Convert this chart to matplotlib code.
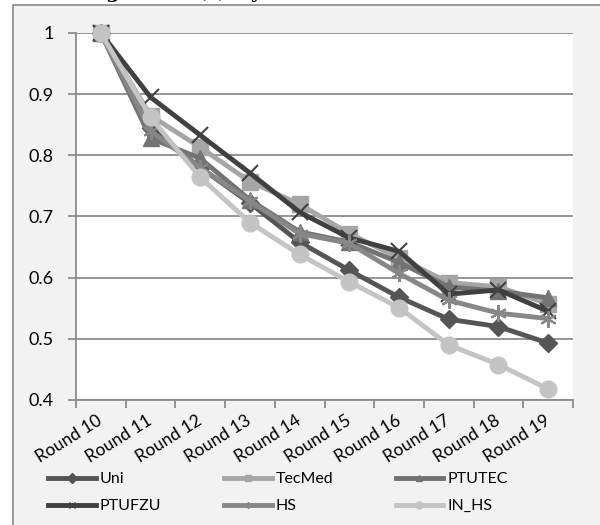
import matplotlib
matplotlib.use("Agg")
import matplotlib.pyplot as plt
from matplotlib.lines import Line2D
from matplotlib.patches import Rectangle
from matplotlib.ticker import FixedLocator, FuncFormatter

rounds = ["Round 10", "Round 11", "Round 12", "Round 13", "Round 14",
          "Round 15", "Round 16", "Round 17", "Round 18", "Round 19"]

uni = [1.0, 0.845, 0.78, 0.722, 0.658, 0.612, 0.568, 0.532, 0.52, 0.493]
tecmed = [1.0, 0.865, 0.813, 0.757, 0.72, 0.672, 0.632, 0.592, 0.585, 0.557]
ptutec = [1.0, 0.828, 0.795, 0.727, 0.675, 0.658, 0.625, 0.585, 0.578, 0.567]
ptufzu = [1.0, 0.895, 0.833, 0.771, 0.707, 0.665, 0.643, 0.573, 0.58, 0.545]
hs = [1.0, 0.84, 0.78, 0.725, 0.672, 0.656, 0.607, 0.563, 0.542, 0.533]
in_hs = [1.0, 0.862, 0.764, 0.69, 0.638, 0.593, 0.551, 0.49, 0.458, 0.418]

y_ticks = [0.4, 0.5, 0.6, 0.7, 0.8, 0.9, 1.0]

series = [
    ("Uni", uni, "#555555", "D", 9, 3.5),
    ("TecMed", tecmed, "#a6a6a6", "s", 12, 3.5),
    ("PTUTEC", ptutec, "#737373", "^", 12, 3.5),
    ("PTUFZU", ptufzu, "#404040", "x", 11, 3.5),
    ("HS", hs, "#878787", (6, 2, 0), 12, 3.5),
    ("IN_HS", in_hs, "#c4c4c4", "o", 12, 3.5),
]

plt.rcParams["font.family"] = ["Lato", "DejaVu Sans"]

fig = plt.figure(figsize=(6, 5.25), dpi=100)
fig.patch.set_facecolor("white")

# chart frame (light grey, clipped at right/bottom like the source crop)
frame = Rectangle((13 / 600, -0.05), 1.0, 1 - 5 / 525 + 0.05,
                  transform=fig.transFigure, facecolor="#f2f2f2",
                  edgecolor="#8a8a8a", linewidth=1.2, zorder=0)
fig.patches.append(frame)

# caption of the source figure, cropped so only descenders peek in
fig.text(85 / 600, 1 + 1.5 / 525, "Figure 12 (c) By Round",
         family="DejaVu Serif", fontweight="bold", fontsize=14,
         va="baseline", ha="left", color="black")

ax = fig.add_axes([76 / 600, 1 - 400 / 525, (573 - 76) / 600, (400 - 33) / 525])
ax.set_zorder(2)
ax.set_facecolor("white")

x = range(len(rounds))
for name, vals, color, marker, ms, lw in series:
    mew = 1.5 if marker in ("x", (6, 2, 0)) else 1
    ax.plot(x, vals, color=color, lw=lw, marker=marker, markersize=ms,
            markeredgecolor=color, markerfacecolor=color, markeredgewidth=mew,
            label=name, solid_joinstyle="round", clip_on=False)

ax.set_xlim(-0.5, len(rounds) - 0.5)
ax.set_ylim(0.4, 1.0)
ax.yaxis.set_major_locator(FixedLocator(y_ticks))
ax.yaxis.set_major_formatter(FuncFormatter(lambda v, p: "1" if abs(v - 1) < 1e-9 else f"{v:.1f}"))
ax.grid(axis="y", color="#8c8c8c", lw=1.3)
ax.set_axisbelow(True)

for s in ("top", "right"):
    ax.spines[s].set_visible(False)
for s in ("left", "bottom"):
    ax.spines[s].set_color("#8c8c8c")
    ax.spines[s].set_linewidth(1.3)

ax.tick_params(axis="y", length=6, width=1.3, color="#8c8c8c", labelsize=13, pad=10)
ax.set_xticks(list(x))
ax.set_xticklabels(rounds, rotation=32, ha="right", va="center",
                   rotation_mode="anchor", fontsize=12.5)
ax.tick_params(axis="x", which="major", length=0, pad=14)
ax.set_xticks([i - 0.5 for i in range(len(rounds) + 1)], minor=True)
ax.tick_params(axis="x", which="minor", length=6, width=1.3, color="#8c8c8c")

handles = [Line2D([], [], color=c, lw=lw, marker=m, markersize=5,
                  markerfacecolor=c, markeredgecolor=c)
           for _, _, c, m, _, lw in series]
labels = [s[0] for s in series]
order = [0, 3, 1, 4, 2, 5]
fig.legend([handles[i] for i in order], [labels[i] for i in order],
           loc="upper left", bbox_to_anchor=(48 / 600, 1 - 472 / 525), ncol=3,
           frameon=False, fontsize=11.5, handlelength=3.0, handletextpad=0.25,
           columnspacing=3.9, labelspacing=0.8, borderpad=0, borderaxespad=0)

fig.savefig("out.png", dpi=100, facecolor="white")
